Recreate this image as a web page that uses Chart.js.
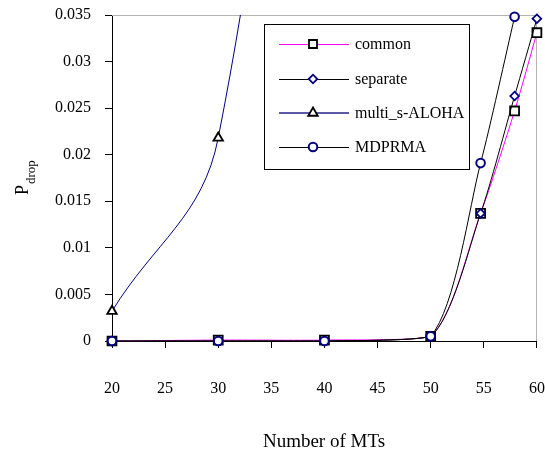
<!DOCTYPE html>
<html>
<head>
<meta charset="utf-8">
<script src="https://cdn.jsdelivr.net/npm/chart.js@4/dist/chart.umd.min.js"></script>
<style>
  html, body { margin: 0; padding: 0; background: #ffffff; }
  #wrap { width: 545px; height: 452px; position: relative; }
</style>
</head>
<body>
<div id="wrap"><canvas id="c" width="545" height="452"></canvas></div>
<script>
// ---- data ----
const xTicks = [20, 25, 30, 35, 40, 45, 50, 55, 60];
const yTicks = [0, 0.005, 0.01, 0.015, 0.02, 0.025, 0.03, 0.035];

const commonMTs = [20, 30, 40, 50, 54.7, 57.9, 60];
const commonDrop = [0, 0.0001, 0.0001, 0.0005, 0.0137, 0.0247, 0.0331];

const separateMTs = [20, 30, 40, 50, 54.7, 57.9, 60];
const separateDrop = [0, 0, 0, 0.0005, 0.0137, 0.0263, 0.0346];

const alohaMTs = [20, 30, 40];
const alohaDrop = [0.0032, 0.0218, 0.12];

const mdprmaMTs = [20, 30, 40, 50, 54.7, 57.9];
const mdprmaDrop = [0, 0, 0, 0.0005, 0.0191, 0.0348];

const seriesNames = ['common', 'separate', 'multi_s-ALOHA', 'MDPRMA'];

function pts(xs, ys) { return xs.map((x, i) => ({ x: x, y: ys[i] })); }

const SERIF = '"Liberation Serif", "Times New Roman", serif';
const looseClip = { left: 10, right: 10, top: 10, bottom: 10 };

const datasets = [
  { label: seriesNames[0], data: pts(commonMTs, commonDrop), borderColor: '#ff00ff', borderWidth: 1,
    pointStyle: 'rect', pointRadius: 6.3, pointBorderColor: '#000000', pointBackgroundColor: '#ffffff',
    pointBorderWidth: 1.8, tension: 0.25, order: 4, clip: looseClip },
  { label: seriesNames[1], data: pts(separateMTs, separateDrop), borderColor: '#000000', borderWidth: 1,
    pointStyle: 'rectRot', pointRadius: 4.3, pointBorderColor: '#000080', pointBackgroundColor: '#ffffff',
    pointBorderWidth: 1.8, tension: 0.25, order: 2, clip: looseClip },
  { label: seriesNames[2], data: pts(alohaMTs, alohaDrop), borderColor: '#000080', borderWidth: 1,
    pointStyle: 'triangle', pointRadius: 5.5, pointBorderColor: '#000000', pointBackgroundColor: '#ffffff',
    pointBorderWidth: 1.8, tension: 0.4, order: 3, clip: { left: 10, right: 10, top: 0, bottom: 10 } },
  { label: seriesNames[3], data: pts(mdprmaMTs, mdprmaDrop), borderColor: '#000000', borderWidth: 1,
    pointStyle: 'circle', pointRadius: 4.3, pointBorderColor: '#000080', pointBackgroundColor: '#ffffff',
    pointBorderWidth: 2, tension: 0.25, order: 1, clip: looseClip }
];

const decor = {
  id: 'decor',
  beforeDatasetsDraw(chart) {
    const { ctx, chartArea: a } = chart;
    ctx.save();
    ctx.strokeStyle = '#b4b4b4';
    ctx.lineWidth = 1;
    ctx.beginPath();
    ctx.moveTo(a.left, Math.round(a.top) + 0.5);
    ctx.lineTo(a.right, Math.round(a.top) + 0.5);
    ctx.moveTo(Math.round(a.right) - 0.5, a.top);
    ctx.lineTo(Math.round(a.right) - 0.5, a.bottom);
    ctx.stroke();
    ctx.restore();
  },
  afterDraw(chart) {
    const { ctx } = chart;
    ctx.save();
    // x title
    ctx.fillStyle = '#000';
    ctx.font = '19px ' + SERIF;
    ctx.textAlign = 'center';
    ctx.textBaseline = 'alphabetic';
    ctx.fillText('Number of MTs', 324, 447);
    // y title with subscript
    ctx.save();
    ctx.translate(28, 195);
    ctx.rotate(-Math.PI / 2);
    ctx.textAlign = 'left';
    ctx.font = '18px ' + SERIF;
    ctx.fillText('P', 0, 0);
    const wP = ctx.measureText('P').width;
    ctx.font = '13px ' + SERIF;
    ctx.fillText('drop', wP + 1, 7);
    ctx.restore();
    // legend
    const L = 264, T = 24, R = 469, B = 169;
    ctx.fillStyle = '#ffffff';
    ctx.fillRect(L, T, R - L, B - T);
    ctx.strokeStyle = '#000';
    ctx.lineWidth = 1;
    ctx.strokeRect(L + 0.5, T + 0.5, R - L, B - T);
    const rows = [44, 79, 113, 147];
    ctx.font = '16px ' + SERIF;
    ctx.textAlign = 'left';
    ctx.textBaseline = 'middle';
    datasets.forEach((ds, i) => {
      const y = rows[i];
      ctx.strokeStyle = i === 2 ? '#5a5aa6' : ds.borderColor;
      ctx.lineWidth = i === 2 ? 2 : 1;
      ctx.beginPath();
      ctx.moveTo(279, i === 2 ? y : y + 0.5);
      ctx.lineTo(349, i === 2 ? y : y + 0.5);
      ctx.stroke();
      ctx.fillStyle = '#ffffff';
      ctx.strokeStyle = ds.pointBorderColor;
      ctx.lineWidth = ds.pointBorderWidth;
      Chart.helpers.drawPoint(ctx, { pointStyle: ds.pointStyle, radius: ds.pointRadius * (i === 0 ? 0.9 : 1), borderWidth: ds.pointBorderWidth, rotation: 0 }, 313, y);
      ctx.fillStyle = '#000';
      ctx.fillText(ds.label, 355, y + 1);
    });
    ctx.restore();
  }
};

new Chart(document.getElementById('c'), {
  type: 'line',
  data: { datasets: datasets },
  options: {
    responsive: false,
    animation: false,
    devicePixelRatio: 1,
    layout: { padding: { top: 15, right: 8, left: 0, bottom: 0 } },
    plugins: { legend: { display: false }, tooltip: { enabled: false } },
    scales: {
      x: {
        type: 'linear', min: 20, max: 60,
        afterBuildTicks(s) { s.ticks = xTicks.map(v => ({ value: v })); },
        afterFit(s) { s.height = 111; s.paddingLeft = 0; s.paddingRight = 0; },
        border: { color: '#000', width: 1 },
        grid: { drawOnChartArea: false, tickLength: 7, color: '#000', tickColor: '#000' },
        ticks: { color: '#000', font: { family: SERIF, size: 16 }, padding: 31, maxRotation: 0, autoSkip: false }
      },
      y: {
        type: 'linear', min: 0, max: 0.035,
        afterBuildTicks(s) { s.ticks = yTicks.map(v => ({ value: v })); },
        afterFit(s) { s.width = 112; s.paddingTop = 0; s.paddingBottom = 0; },
        border: { color: '#000', width: 1 },
        grid: { drawOnChartArea: false, tickLength: 7, color: '#000', tickColor: '#000' },
        ticks: { color: '#000', font: { family: SERIF, size: 16 }, padding: 14,
          callback: v => String(Number(v.toFixed(3))) }
      }
    }
  },
  plugins: [decor]
});
</script>
</body>
</html>
